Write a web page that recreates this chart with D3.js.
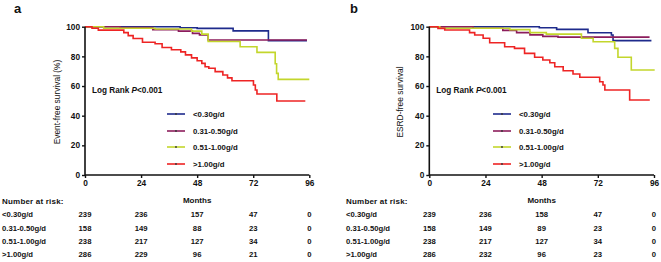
<!DOCTYPE html>
<html>
<head>
<meta charset="utf-8">
<script src="https://cdn.jsdelivr.net/npm/d3@7"></script>
<style>
  body { margin: 0; background: #fff; }
  svg text { font-family: "Liberation Sans", Arial, sans-serif; font-weight: bold; fill: #111; }
</style>
</head>
<body>
<svg id="chart" width="661" height="262"></svg>
<script>
/*
  Kaplan-Meier curves, two panels
*/

var groups = ["<0.30g/d", "0.31-0.50g/d", "0.51-1.00g/d", ">1.00g/d"],
    colors = ["#1e2b8c", "#8c1d5c", "#c3d62c", "#ee2424"],
    monthTicks = [0, 24, 48, 72, 96],
    survTicks = [0, 20, 40, 60, 80, 100];

// panel a : [month, survival %]
var aLow = [[0,100],[40.7,99.3],[48,98.9],[63.4,97.2],[78.5,90.6],[95,90.6]],
    aMid = [[0,100],[15,99.5],[29,98],[40,97],[46,95.5],[49,94.5],[52.7,91],[95,91]],
    aHigh = [[0,100],[8,99],[30,98.5],[45.6,97],[50,95],[52.7,90],[66.4,86.5],[73.6,82.7],[81.4,75],[82,68.5],[82.7,64.5],[96,64.5]],
    aTop = [[0,100],[3,99],[5.7,97.7],[16.6,96],[18.5,94],[20.6,92],[24.6,89.5],[30,88.5],[33,86],[37,84.5],[41,83],[43,81],[45.6,79],[48,77],[50,75.3],[51.4,73],[53,72],[55.7,69.7],[59,67.4],[61,65.5],[62.9,63.6],[72.1,60.7],[72.9,57.3],[73.6,54.6],[82.1,49.9],[94.3,49.9]];

// panel b
var bLow = [[0,100],[47,99.3],[54.4,98.2],[67.8,95.9],[77.8,94.4],[78.5,90.6],[94.9,90.6]],
    bMid = [[0,100],[18.7,99],[31.4,97.5],[37.3,96],[43,94.5],[48.5,93.5],[55,93],[94.1,93]],
    bHigh = [[0,100],[4.5,99],[34.4,98],[43,96],[50,95],[65,92.2],[70,89.9],[79.2,85.4],[80.6,79.4],[86.3,70.8],[96.3,70.8]],
    bTop = [[0,100],[3.7,98.9],[6.6,97.8],[17.2,96],[19.4,94.4],[23,92.2],[25.8,89.2],[32.2,86.5],[36.4,85.4],[40.7,82],[45,79.4],[48.5,77.5],[51.5,75.7],[53.6,73],[57.2,70.3],[61.4,68.1],[64.3,65.9],[72.8,62.9],[74.2,60.7],[75,57.3],[85.6,50.6],[94.2,50.6]];

var riskA = [[239,236,157,47,0],[158,149,88,23,0],[238,217,127,34,0],[286,229,96,21,0]],
    riskB = [[239,236,158,47,0],[158,149,89,23,0],[238,217,127,34,0],[286,232,96,23,0]];

var svg = d3.select("#chart");

function drawPanel(p){
  var x = d3.scaleLinear().domain([0, 96]).range([p.left, p.right]),
      y = d3.scaleLinear().domain([0, 100]).range([175, 26.7]),
      g = svg.append("g");

  g.append("text").attr("x", p.labelX).attr("y", 13)
    .style("font-size", "13px").text(p.label);

  //curves
  var line = d3.line()
    .x(function(d){ return x(d[0]); })
    .y(function(d){ return y(d[1]); })
    .curve(d3.curveStepAfter);

  p.series.forEach(function(s, i){
    g.append("path").datum(s)
      .attr("d", line)
      .attr("fill", "none")
      .attr("stroke", colors[i])
      .attr("stroke-width", 1.6);
  });

  //axes
  var yAxis = g.append("g")
    .attr("transform", "translate(" + p.left + ",0)")
    .call(d3.axisLeft(y).tickValues(survTicks).tickSize(3).tickPadding(2));
  var xAxis = g.append("g")
    .attr("transform", "translate(0,175)")
    .call(d3.axisBottom(x).tickValues(monthTicks).tickSize(3).tickPadding(2));
  [xAxis, yAxis].forEach(function(a){
    a.select(".domain").attr("stroke", "#111").attr("stroke-width", 1.6);
    a.selectAll(".tick line").attr("stroke", "#111").attr("stroke-width", 1.4);
    a.selectAll("text").style("font-size", "8.3px")
      .style("font-family", "'Liberation Sans', Arial, sans-serif").style("font-weight", "bold");
  });
  yAxis.select(".domain").attr("d", "M0," + y(0) + "V" + y(100));
  xAxis.select(".domain").attr("d", "M" + x(0) + ",0H" + x(96));

  g.append("text")
    .attr("transform", "rotate(-90)")
    .attr("x", -102).attr("y", p.yLabelX)
    .style("text-anchor", "middle").style("font-size", "8.4px").style("font-weight", "normal")
    .text(p.yLabel);

  g.append("text").attr("x", p.left + 7).attr("y", 92.5)
    .style("font-size", "8.2px")
    .text("Log Rank ")
    .append("tspan").style("font-style", "italic").text("P")
    .select(function(){ return this.parentNode; })
    .append("tspan").text("<0.001");

  //legend
  groups.forEach(function(name, i){
    var ly = [114, 131, 147, 164][i];
    g.append("line").attr("x1", p.legendX).attr("x2", p.legendX + 18)
      .attr("y1", ly).attr("y2", ly)
      .attr("stroke", colors[i]).attr("stroke-width", 1.6);
    g.append("circle").attr("cx", p.legendX + 9).attr("cy", ly).attr("r", 0.9)
      .attr("fill", "#333");
    g.append("text").attr("x", p.legendX + 26).attr("y", ly + 2.8)
      .style("font-size", "7.8px").text(name);
  });

  g.append("text").attr("x", x(48)).attr("y", 203)
    .style("text-anchor", "middle").style("font-size", "8px").text("Months");

  //number at risk
  g.append("text").attr("x", p.riskX).attr("y", 204)
    .style("font-size", "8px").style("letter-spacing", "0.2px").text("Number at risk:");
  groups.forEach(function(name, i){
    var ry = [216.5, 231, 244, 257][i];
    g.append("text").attr("x", p.riskX).attr("y", ry)
      .style("font-size", "7.7px").text(name);
    g.selectAll(null).data(p.risk[i]).enter().append("text")
      .attr("x", function(d, j){ return x(monthTicks[j]); })
      .attr("y", ry)
      .style("text-anchor", "middle").style("font-size", "7.7px")
      .text(function(d){ return d; });
  });
}

drawPanel({label: "a", labelX: 14, left: 85, right: 309.3, series: [aLow, aMid, aHigh, aTop],
  yLabel: "Event-free survival (%)", yLabelX: 60, legendX: 167, riskX: 2, risk: riskA});
drawPanel({label: "b", labelX: 350, left: 429.3, right: 654, series: [bLow, bMid, bHigh, bTop],
  yLabel: "ESRD-free survival", yLabelX: 403, legendX: 493, riskX: 346, risk: riskB});
</script>
</body>
</html>
